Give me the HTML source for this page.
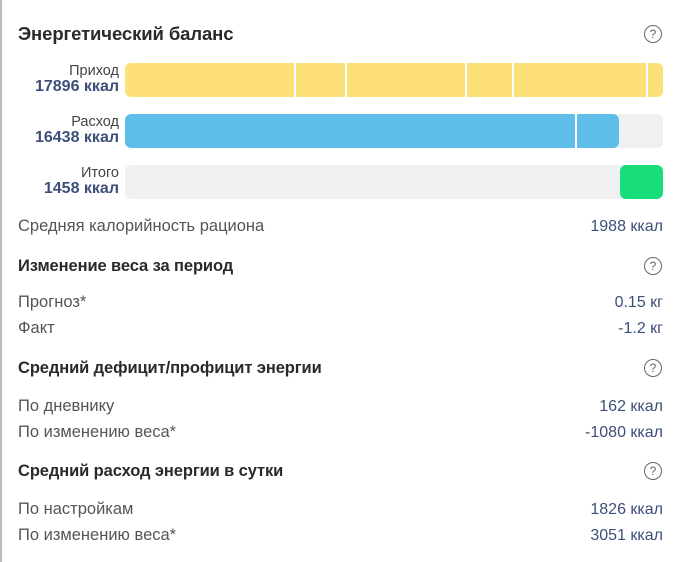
<!DOCTYPE html>
<html><head><meta charset="utf-8"><style>
body{margin:0;width:680px;height:562px;background:#fff;font-family:"Liberation Sans","DejaVu Sans",sans-serif;position:relative;overflow:hidden}
.a{position:absolute;white-space:nowrap}
.h{font-size:16.5px;font-weight:bold;color:#2a2a2a;left:18px;letter-spacing:-0.1px}
.t{font-size:16.5px;color:#555;left:18px}
.v{font-size:16px;color:#3d4f7a;right:17px}
.q{position:absolute;right:18px;width:16px;height:16px;border:1.5px solid #666;border-radius:50%;font-size:12px;color:#666;text-align:center;line-height:16px}
.lb{right:561px;text-align:right;font-size:14.5px;color:#444;line-height:15px}
.lb b{color:#3d4f7a;font-size:16px}
.bar{position:absolute;left:125px;width:538px;height:34px;border-radius:6px;background:#eff0f2;overflow:hidden}
.d{position:absolute;top:0;width:1.5px;height:34px;background:#fff}
</style></head><body>
<div style="position:absolute;left:0;top:0;width:2px;height:562px;background:#bbb"></div>
<div class="a h" style="top:23px;font-size:18.5px">Энергетический баланс</div><div class="q" style="top:25px">?</div>
<div class="a lb" style="top:64px">Приход<br><b>17896 ккал</b></div>
<div class="bar" style="top:63px;background:#fde07a"><div class="d" style="left:169px"></div><div class="d" style="left:220px"></div><div class="d" style="left:340px"></div><div class="d" style="left:387px"></div><div class="d" style="left:521px"></div></div>
<div class="a lb" style="top:115px">Расход<br><b>16438 ккал</b></div>
<div class="bar" style="top:114px"><div style="position:absolute;left:0;top:0;width:494px;height:34px;background:#5ebde9;border-radius:6px"></div><div class="d" style="left:450px"></div></div>
<div class="a lb" style="top:166px">Итого<br><b>1458 ккал</b></div>
<div class="bar" style="top:165px"><div style="position:absolute;left:495px;top:0;width:43px;height:34px;background:#17dd7a;border-radius:6px"></div></div>
<div class="a t" style="top:217px">Средняя калорийность рациона</div><div class="a v" style="top:218px">1988 ккал</div>
<div class="a h" style="top:257px">Изменение веса за период</div><div class="q" style="top:257px">?</div>
<div class="a t" style="top:293px">Прогноз*</div><div class="a v" style="top:294px">0.15 кг</div>
<div class="a t" style="top:319px">Факт</div><div class="a v" style="top:320px">-1.2 кг</div>
<div class="a h" style="top:359px">Средний дефицит/профицит энергии</div><div class="q" style="top:359px">?</div>
<div class="a t" style="top:397px">По дневнику</div><div class="a v" style="top:398px">162 ккал</div>
<div class="a t" style="top:423px">По изменению веса*</div><div class="a v" style="top:424px">-1080 ккал</div>
<div class="a h" style="top:462px">Средний расход энергии в сутки</div><div class="q" style="top:462px">?</div>
<div class="a t" style="top:500px">По настройкам</div><div class="a v" style="top:501px">1826 ккал</div>
<div class="a t" style="top:526px">По изменению веса*</div><div class="a v" style="top:527px">3051 ккал</div>
</body></html>
